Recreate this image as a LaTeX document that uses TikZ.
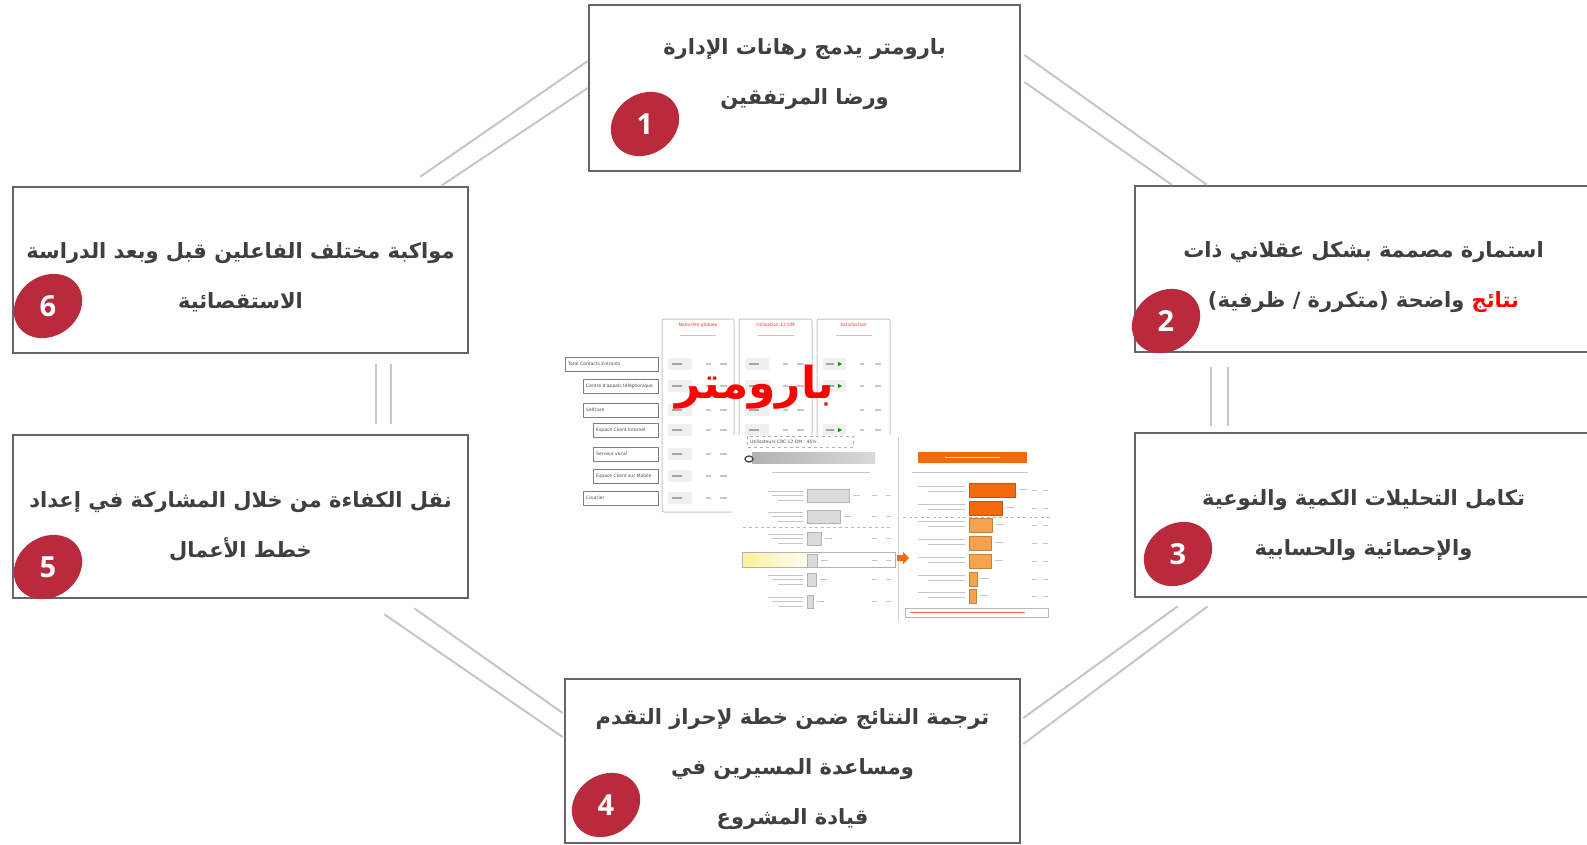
\documentclass[tikz,border=0pt]{standalone}
\usepackage{fontspec}
\setmainfont{DejaVu Sans}
\newfontfamily\arabicfont[Script=Arabic]{DejaVu Sans}
\newfontfamily\numfont{Open Sans}
\TeXXeTstate=1
\newcommand{\artext}[1]{\beginR#1\endR}
\definecolor{frame}{HTML}{62666A}
\definecolor{linkgray}{HTML}{C9C5BF}
\definecolor{badgered}{HTML}{B92B3C}
\definecolor{ink}{HTML}{3F3F3F}
\definecolor{orangeA}{HTML}{F26A0C}
\definecolor{orangeB}{HTML}{F7A24F}
\begin{document}
\begin{tikzpicture}[x=1pt,y=-1pt,
    box/.style={draw=frame, line width=2.6pt, fill=white, inner sep=0pt},
    txt/.style={inner sep=0pt, align=center, text=ink,
      font=\arabicfont\bfseries\fontsize{21}{50}\selectfont},
    num/.style={text=white, inner sep=0pt, font=\numfont\bfseries\fontsize{29}{29}\selectfont},
    link/.style={draw=linkgray, line width=2pt},
    panel/.style={draw=gray!45, line width=1pt, rounded corners=2pt},
    chan/.style={draw=gray, line width=0.9pt, fill=white},
    tag/.style={inner sep=0pt, anchor=west, text=gray!60!black, font=\fontsize{4.5}{5}\selectfont},
    scrib/.style={draw=gray!45, line width=1.3pt},
  ]
  \useasboundingbox (0,0) rectangle (1587,845);

  % the six steps
  \node[box, minimum width=431pt, minimum height=166pt] (b1) at (804.5,88) {};
  \node[box, minimum width=457pt, minimum height=166pt] (b2) at (1363.5,269) {};
  \node[box, minimum width=457pt, minimum height=164pt] (b3) at (1363.5,515) {};
  \node[box, minimum width=455pt, minimum height=164pt] (b4) at (792.5,761) {};
  \node[box, minimum width=455pt, minimum height=163pt] (b5) at (240.5,516.5) {};
  \node[box, minimum width=455pt, minimum height=166pt] (b6) at (240.5,270) {};

  \node[txt] (t1) at ([yshift=14pt]b1.center)
    {\artext{بارومتر يدمج رهانات الإدارة}\\ \artext{ورضا المرتفقين}};
  \node[txt] (t2) at ([yshift=-8pt]b2.center)
    {\artext{استمارة مصممة بشكل عقلاني ذات}\\
     \artext{واضحة (متكررة / ظرفية)} {\color{red}\artext{نتائج}}};
  \node[txt] (t3) at ([yshift=-10pt]b3.center)
    {\artext{تكامل التحليلات الكمية والنوعية}\\ \artext{والإحصائية والحسابية}};
  \node[txt] (t4) at ([yshift=-8pt]b4.center)
    {\artext{ترجمة النتائج ضمن خطة لإحراز التقدم}\\ \artext{ومساعدة المسيرين في}\\ \artext{قيادة المشروع}};
  \node[txt] (t5) at ([yshift=-10pt]b5.center)
    {\artext{نقل الكفاءة من خلال المشاركة في إعداد}\\ \artext{خطط الأعمال}};
  \node[txt] (t6) at ([yshift=-7pt]b6.center)
    {\artext{مواكبة مختلف الفاعلين قبل وبعد الدراسة}\\ \artext{الاستقصائية}};

  % numbered badges
  \foreach \n/\x/\y in {1/645/124, 2/1166/321, 3/1178/554, 4/606/805, 5/48/567, 6/48/306}{
    \fill[badgered, rotate around={35:(\x,\y)}] (\x,\y) ellipse [x radius=36pt, y radius=30pt];
    \node[num] (n\n) at (\x,\y) {\n};
  }

  % double links around the cycle
  \draw[link] ([xshift=-49pt,yshift=9pt]b6.north east) -- ([yshift=27pt]b1.west);
  \draw[link] ([xshift=-28pt]b6.north east) -- (b1.west);
  \draw[link] ([xshift=3pt,yshift=33pt]b1.east) -- ([xshift=73pt]b2.north west);
  \draw[link] ([xshift=3pt,yshift=6pt]b1.east) -- ([xshift=38pt]b2.north west);
  \draw[link] ([xshift=77pt,yshift=-14pt]b2.south west) -- ([xshift=77pt,yshift=6pt]b3.north west);
  \draw[link] ([xshift=94pt,yshift=-14pt]b2.south west) -- ([xshift=94pt,yshift=6pt]b3.north west);
  \draw[link] ([xshift=44pt,yshift=-8pt]b3.south west) -- ([xshift=2pt,yshift=43pt]b4.east);
  \draw[link] ([xshift=74pt,yshift=-8pt]b3.south west) -- ([xshift=2pt,yshift=17pt]b4.east);
  \draw[link] ([xshift=-55pt,yshift=-9pt]b5.south east) -- ([xshift=-1pt,yshift=48pt]b4.west);
  \draw[link] ([xshift=-85pt,yshift=-15pt]b5.south east) -- ([xshift=-1pt,yshift=24pt]b4.west);
  \draw[link] ([xshift=364pt,yshift=-10pt]b6.south west) -- ([xshift=364pt,yshift=10pt]b5.north west);
  \draw[link] ([xshift=379pt,yshift=-10pt]b6.south west) -- ([xshift=379pt,yshift=10pt]b5.north west);

  % report snapshot: channel column
  \foreach \y/\x/\t in {364/565/Total Contacts Entrants, 386/583/Centre d'appels téléphonique,
      410/583/Selfcare, 430/593/Espace Client Internet, 454/593/Serveur vocal,
      476/593/Espace Client sur Mobile, 498/583/Courrier}{
    \draw[chan] (\x,\y-7) rectangle (658,\y+7);
    \node[tag] (ch\y) at (\x+3,\y) {\t};
  }

  % score panels
  \draw[panel] (662,319) rectangle (734,512);
  \draw[panel] (739,319) rectangle (812,445);
  \draw[panel] (817,319) rectangle (890,445);
  \foreach \x/\t in {698/Notoriété globale, 775.5/Utilisation 12 DM, 853.5/Satisfaction}{
    \node[tag, anchor=center, text=red!80] (hd\x) at (\x,325) {\t};
    \draw[scrib, line width=0.8pt] (\x-18,335) -- (\x+18,335);
  }
  \foreach \y in {364,386,410,430,454,476,498}{
    \fill[gray!12] (668,\y-6) rectangle (692,\y+6);
    \draw[scrib, draw=gray!70] (672,\y) -- (682,\y);
    \draw[scrib] (706,\y) -- (711,\y) (720,\y) -- (727,\y);
  }
  \foreach \y in {364,386,410,430}{
    \fill[gray!12] (745,\y-6) rectangle (769,\y+6);
    \draw[scrib, draw=gray!70] (749,\y) -- (759,\y);
    \draw[scrib] (783,\y) -- (788,\y) (797,\y) -- (804,\y);
    \draw[scrib] (860,\y) -- (864,\y) (875,\y) -- (881,\y);
  }
  \foreach \y in {364,386,430}{
    \fill[gray!12] (823,\y-6) rectangle (846,\y+6);
    \draw[scrib, draw=gray!70] (826,\y) -- (834,\y);
    \fill[green!60!black] (838,\y-2) -- (842,\y) -- (838,\y+2) -- cycle;
  }

  % channel detail sheet
  \fill[white] (732,435) rectangle (1052,622);
  \draw[dashed, gray!60, line width=0.6pt] (747,436) rectangle (853,447);
  \node[tag] (crc) at (750,441.5) {Utilisateurs CRC 12 DM : 45\%};
  \shade[left color=gray!60, right color=gray!30] (752,452) rectangle (875,463);
  \draw[gray!60!black, line width=1.4pt] (749,459) ellipse [x radius=4pt, y radius=3pt];
  \draw[scrib, line width=0.8pt] (772,472) -- (870,472);
  \draw[scrib, line width=0.8pt] (912,472) -- (1028,472);
  \draw[dashed, gray!55, line width=0.6pt] (743,527) -- (892,527);
  \draw[dashed, gray!55, line width=0.6pt] (903,517) -- (1050,517);
  \draw[gray!35, line width=0.8pt] (898,437) -- (898,622);

  % left bars
  \shade[left color=orange!30!yellow!40, right color=white] (743,553) rectangle (815,566);
  \draw[gray!60, line width=0.8pt] (742,552) rectangle (895,567);
  \foreach \y/\w in {489/42, 510/33, 532/14, 554/10, 573/9, 595/6}{
    \draw[fill=gray!28, draw=gray!60, line width=0.6pt] (807,\y) rectangle (807+\w,\y+13);
    \draw[scrib, line width=0.9pt] (807+\w+4,\y+6) -- (807+\w+11,\y+6);
    \draw[scrib, line width=0.9pt] (872,\y+6) -- (877,\y+6) (886,\y+6) -- (891,\y+6);
  }
  \foreach \y in {489,510,532,573,595}{
    \draw[scrib, line width=0.8pt] (768,\y+2) -- (803,\y+2) (772,\y+6.5) -- (803,\y+6.5) (778,\y+11) -- (803,\y+11);
  }

  % right bars
  \fill[orangeA] (918,452) rectangle (1027,463);
  \draw[white!80!orangeA, line width=0.8pt] (945,457.5) -- (1000,457.5);
  \fill[orangeA] (897,555) -- (903,555) -- (903,552) -- (909,558) -- (903,564) -- (903,561) -- (897,561) -- cycle;
  \foreach \y/\w/\c in {483/46/orangeA, 501/33/orangeA, 518/23/orangeB, 536/22/orangeB, 554/22/orangeB, 572/8/orangeB, 589/7/orangeB}{
    \draw[fill=\c, draw=\c!80!black, line width=0.5pt] (969,\y) rectangle (969+\w,\y+14);
    \draw[scrib, line width=0.9pt] (969+\w+4,\y+6) -- (969+\w+12,\y+6);
    \draw[scrib, line width=0.9pt] (1032,\y+7) -- (1037,\y+7) (1043,\y+7) -- (1048,\y+7);
    \draw[scrib, line width=0.8pt] (918,\y+3) -- (965,\y+3) (928,\y+8) -- (965,\y+8);
  }
  \draw[gray!55, line width=0.6pt] (905,608) rectangle (1048,617);
  \draw[red!60, line width=0.9pt] (910,612.5) -- (1025,612.5);

  % headline word
  \node[text=red, inner sep=0pt, font=\arabicfont\bfseries\fontsize{44}{44}\selectfont] (title) at (755,387)
    {\artext{بارومتر}};
\end{tikzpicture}
\end{document}
